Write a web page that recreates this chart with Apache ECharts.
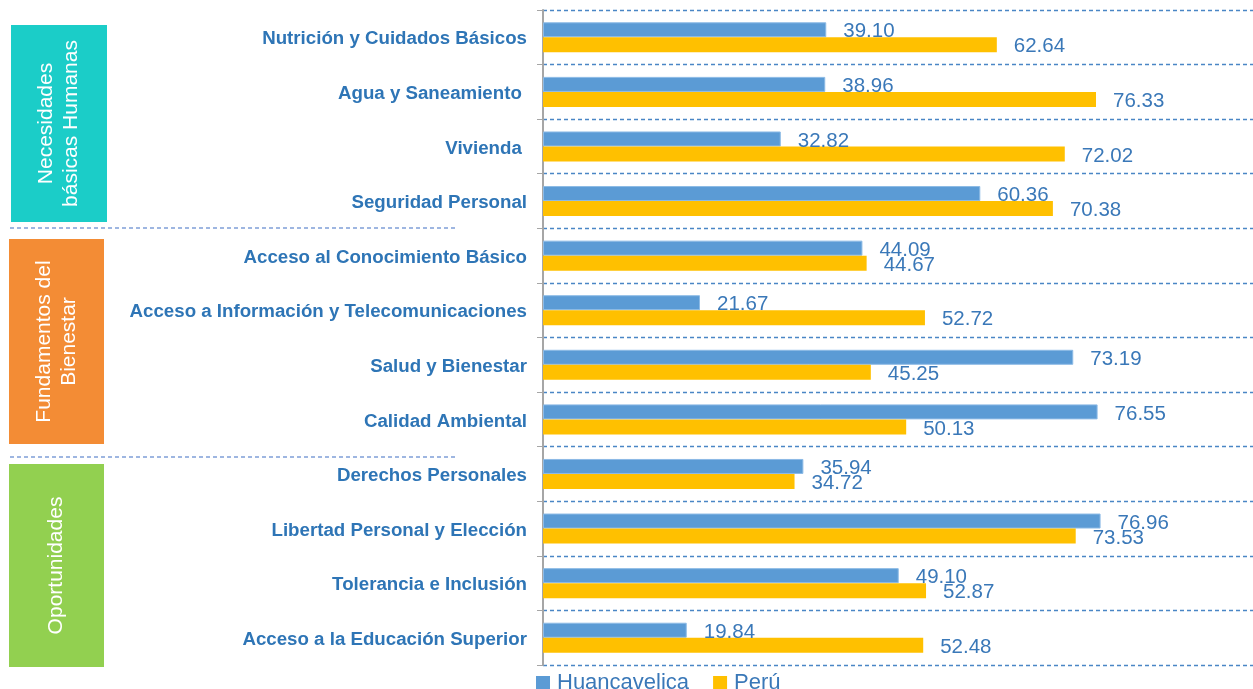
<!DOCTYPE html>
<html>
<head>
<meta charset="utf-8">
<script src="https://cdn.jsdelivr.net/npm/echarts@6/dist/echarts.min.js"></script>
<style>
  html, body { margin: 0; padding: 0; background: #fff; }
  #chart { width: 1253px; height: 689px; }
</style>
</head>
<body>
<div id="chart"></div>
<script>
// Social progress components, Huancavelica vs national average
const categories = [
  'Nutrición y Cuidados Básicos',
  'Agua y Saneamiento ',
  'Vivienda ',
  'Seguridad Personal',
  'Acceso al Conocimiento Básico',
  'Acceso a Información y Telecomunicaciones',
  'Salud y Bienestar',
  'Calidad Ambiental',
  'Derechos Personales',
  'Libertad Personal y Elección',
  'Tolerancia e Inclusión',
  'Acceso a la Educación Superior'
];
const huancavelica = [39.10, 38.96, 32.82, 60.36, 44.09, 21.67, 73.19, 76.55, 35.94, 76.96, 49.10, 19.84];
const peru = [62.64, 76.33, 72.02, 70.38, 44.67, 52.72, 45.25, 50.13, 34.72, 73.53, 52.87, 52.48];
const seriesNames = ['Huancavelica', 'Perú'];

// Dimension panels on the left
const groups = [
  { lines: ['Necesidades', 'básicas Humanas'], color: '#1BCDC8', x: 11, y: 25, w: 96, h: 197 },
  { lines: ['Fundamentos del', 'Bienestar'], color: '#F38C35', x: 9, y: 239, w: 95, h: 205 },
  { lines: ['Oportunidades'], color: '#92D050', x: 9, y: 464, w: 95, h: 203 }
];
const separators = [228, 457];

const FONT = '"Liberation Sans", Arial, sans-serif';
const chart = echarts.init(document.getElementById('chart'), null, { renderer: 'canvas' });

const graphics = [];
groups.forEach(g => {
  graphics.push({
    type: 'rect',
    shape: { x: g.x, y: g.y, width: g.w, height: g.h },
    style: { fill: g.color },
    silent: true
  });
  graphics.push({
    type: 'text',
    x: g.x + g.w / 2,
    y: g.y + g.h / 2,
    rotation: Math.PI / 2,
    style: {
      text: g.lines.join('\n'),
      fill: '#ffffff',
      font: '21px ' + FONT,
      align: 'center',
      verticalAlign: 'middle',
      lineHeight: 25
    },
    silent: true
  });
});
separators.forEach(y => {
  graphics.push({
    type: 'line',
    shape: { x1: 10, y1: y, x2: 458, y2: y },
    style: { stroke: '#7F9FD8', lineWidth: 1.3, lineDash: [4, 3] },
    silent: true
  });
});

const valueLabel = {
  show: true,
  position: 'right',
  distance: 17,
  offset: [0, 2],
  color: '#3A78B8',
  fontSize: 20.5,
  fontFamily: FONT,
  formatter: p => p.value.toFixed(2)
};

chart.setOption({
  animation: false,
  textStyle: { fontFamily: FONT },
  graphic: graphics,
  legend: {
    data: seriesNames,
    left: 531,
    top: 667,
    itemWidth: 14,
    itemHeight: 14,
    itemGap: 24,
    icon: 'rect',
    itemStyle: { borderWidth: 0 },
    textStyle: { fontSize: 22, color: '#3A78B8', padding: [0, 0, 0, 2] }
  },
  grid: { left: 543, top: 10, right: 0, height: 655 },
  xAxis: {
    type: 'value',
    min: 0,
    max: 98,
    show: false
  },
  yAxis: {
    type: 'category',
    data: categories,
    inverse: true,
    axisLine: { show: true, lineStyle: { color: '#A6A6A6', width: 2 } },
    axisTick: { show: true, length: 6, lineStyle: { color: '#A6A6A6' } },
    axisLabel: {
      margin: 16,
      formatter: v => '{c|' + v + '}',
      rich: {
        c: {
          color: '#2E75B6',
          fontSize: 18.7,
          fontWeight: 'bold',
          fontFamily: FONT,
          padding: [4, 0, 0, 0]
        }
      }
    },
    splitLine: {
      show: true,
      lineStyle: { color: '#4A86C5', type: [4, 3], width: 1.3 }
    }
  },
  series: [
    {
      name: seriesNames[0],
      type: 'bar',
      data: huancavelica,
      barWidth: 15,
      barGap: '0%',
      itemStyle: { color: '#5B9BD5', borderColor: '#8DBBE6', borderWidth: 1 },
      label: valueLabel
    },
    {
      name: seriesNames[1],
      type: 'bar',
      data: peru,
      barWidth: 15,
      barGap: '0%',
      itemStyle: { color: '#FFC000' },
      label: valueLabel
    }
  ]
});
</script>
</body>
</html>
